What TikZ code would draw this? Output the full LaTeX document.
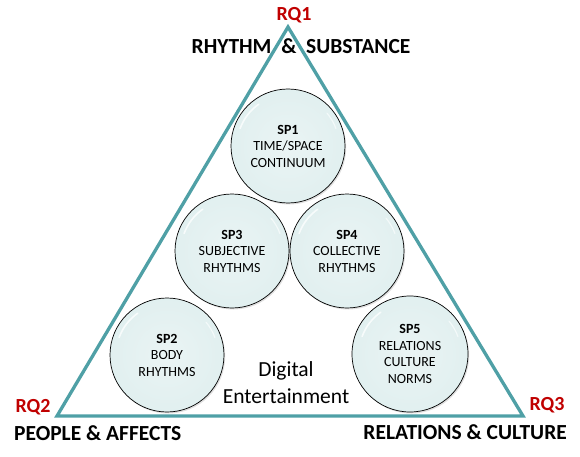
\documentclass[tikz,border=0pt]{standalone}
\usepackage{fontspec}
\setmainfont{Carlito}
\usetikzlibrary{shadows,calc}
\definecolor{trianglecol}{HTML}{4FA0A6}
\definecolor{rqred}{HTML}{C00000}
\definecolor{bubA}{HTML}{EAF4F4}
\definecolor{bubB}{HTML}{E0EFEF}
\definecolor{bubC}{HTML}{C0DFDF}
\definecolor{bubD}{HTML}{94C5C6}
\pgfdeclareradialshading{bubble}{\pgfpoint{0bp}{0bp}}{color(0bp)=(bubA); color(28bp)=(bubB); color(43bp)=(bubC); color(50bp)=(bubD); color(100bp)=(bubD)}
\begin{document}
\begin{tikzpicture}[x=1pt,y=-1pt,
  sp/.style={circle, draw=black, line width=0.7pt, minimum size=114pt, inner sep=0pt,
    shading=bubble, align=center, font=\fontsize{14}{16.5}\selectfont,
    drop shadow={opacity=0.25, shadow xshift=1.2pt, shadow yshift=-1.5pt}},
  shine/.style={white, line width=1.6pt, opacity=0.75, line cap=round},
  rq/.style={font=\fontsize{20}{22}\selectfont\bfseries, text=rqred, inner sep=0pt},
  ttl/.style={font=\fontsize{21.5}{23}\selectfont\bfseries, inner sep=0pt},
  tri/.style={draw=trianglecol, line width=3.3pt, line join=miter}]
\useasboundingbox (0,0) rectangle (580,457);
\coordinate (top) at (288,27);
\coordinate (bl) at (57,416);
\coordinate (br) at (523,416);
\draw[tri] (top) -- (bl) -- (br) -- cycle;
\node[sp] (sp1) at (288,146) {\textbf{SP1}\\TIME/SPACE\\CONTINUUM};
\node[sp] (sp3) at (232,251) {\textbf{SP3}\\SUBJECTIVE\\RHYTHMS};
\node[sp] (sp4) at (347,251) {\textbf{SP4}\\COLLECTIVE\\RHYTHMS};
\node[sp] (sp2) at (167,355) {\textbf{SP2}\\BODY\\RHYTHMS};
\node[sp, minimum size=116pt] (sp5) at (410,354) {\textbf{SP5}\\RELATIONS\\CULTURE\\NORMS};
\foreach \n in {sp1,sp2,sp3,sp4,sp5}{
  \draw[shine] ($(\n.center)+(200:51)$) arc (200:235:51);
  \draw[shine, line width=1.2pt, opacity=0.6] ($(\n.center)+(-40:51)$) arc (-40:-20:51);
}
\node[font=\fontsize{21.5}{27}\selectfont, align=center] (de) at (286,383) {Digital\\Entertainment};
\node[rq] (rq1) at (294,15) {RQ1};
\node[ttl] (t1) at (301,46) {RHYTHM\ \ \&\ \ SUBSTANCE};
\node[rq] (rq2) at (33,407) {RQ2};
\node[ttl, anchor=west] (t2) at (14,433) {PEOPLE \& AFFECTS};
\node[rq] (rq3) at (547,405) {RQ3};
\node[ttl, anchor=east] (t3) at (567,432) {RELATIONS \& CULTURE};
\end{tikzpicture}
\end{document}
